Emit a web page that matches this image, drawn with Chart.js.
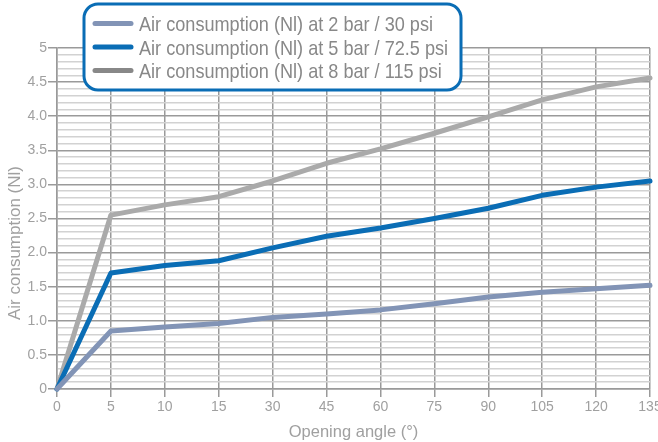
<!DOCTYPE html>
<html>
<head>
<meta charset="utf-8">
<script src="https://cdn.jsdelivr.net/npm/chart.js@4/dist/chart.umd.min.js"></script>
<style>
  html, body { margin: 0; padding: 0; background: #fff; }
  #wrap { width: 658px; height: 442px; position: relative; }
</style>
</head>
<body>
<div id="wrap"><canvas id="c" width="658" height="442"></canvas></div>
<script>
// ---- data ----
const categories = ['0', '5', '10', '15', '30', '45', '60', '75', '90', '105', '120', '135'];
const series2bar = [0, 0.85, 0.91, 0.96, 1.05, 1.10, 1.16, 1.25, 1.35, 1.42, 1.47, 1.52];
const series5bar = [0, 1.70, 1.81, 1.88, 2.07, 2.24, 2.36, 2.50, 2.65, 2.84, 2.96, 3.05];
const series8bar = [0, 2.55, 2.70, 2.82, 3.05, 3.31, 3.52, 3.75, 3.99, 4.24, 4.43, 4.56];
const seriesLabels = [
  'Air consumption (Nl) at 2 bar / 30 psi',
  'Air consumption (Nl) at 5 bar / 72.5 psi',
  'Air consumption (Nl) at 8 bar / 115 psi'
];
const xTitle = 'Opening angle (°)';
const yTitle = 'Air consumption (Nl)';

const lineColors = ['#8294b6', '#0a6db5', '#aaaaaa'];
const legendColors = ['#8294b6', '#0a6db5', '#888888'];

function fmtY(v) {
  const t = Math.round(v * 10);
  if (t % 5 !== 0) return '';
  if (t === 0) return '0';
  if (t === 50) return '5';
  return (t / 10).toFixed(1);
}
function isMajor(v) { return Math.round(v * 10) % 5 === 0; }

const customDraw = {
  id: 'customDraw',
  afterDraw(chart) {
    const ctx = chart.ctx;
    const area = chart.chartArea;
    // y title
    ctx.save();
    ctx.fillStyle = '#a0a0a0';
    ctx.font = '17px "Liberation Sans", Arial, sans-serif';
    ctx.textAlign = 'center';
    ctx.textBaseline = 'middle';
    ctx.translate(15, 243);
    ctx.rotate(-Math.PI / 2);
    ctx.fillText(yTitle, 0, 0);
    ctx.restore();

    // legend box
    ctx.save();
    const bx = 84, by = 4, bw = 377, bh = 86, r = 14;
    ctx.beginPath();
    ctx.moveTo(bx + r, by);
    ctx.lineTo(bx + bw - r, by);
    ctx.arcTo(bx + bw, by, bx + bw, by + r, r);
    ctx.lineTo(bx + bw, by + bh - r);
    ctx.arcTo(bx + bw, by + bh, bx + bw - r, by + bh, r);
    ctx.lineTo(bx + r, by + bh);
    ctx.arcTo(bx, by + bh, bx, by + bh - r, r);
    ctx.lineTo(bx, by + r);
    ctx.arcTo(bx, by, bx + r, by, r);
    ctx.closePath();
    ctx.fillStyle = '#ffffff';
    ctx.fill();
    ctx.lineWidth = 3;
    ctx.strokeStyle = '#0a6db5';
    ctx.stroke();

    const rowsY = [23.5, 47, 70.5];
    ctx.font = '21px "Liberation Sans Narrow", "Arial Narrow", "Liberation Sans", Arial, sans-serif';
    const w0 = ctx.measureText(seriesLabels[0]).width;
    const sx = 294 / w0;
    chart.data.datasets.forEach((ds, i) => {
      const y = rowsY[i];
      ctx.beginPath();
      ctx.lineCap = 'round';
      ctx.lineWidth = 5;
      ctx.strokeStyle = legendColors[i];
      ctx.moveTo(95, y);
      ctx.lineTo(131, y);
      ctx.stroke();
      ctx.save();
      ctx.translate(139, y + 7.5);
      ctx.scale(sx, 1);
      ctx.fillStyle = '#888888';
      ctx.textAlign = 'left';
      ctx.textBaseline = 'alphabetic';
      ctx.fillText(ds.label, 0, 0);
      ctx.restore();
    });
    ctx.restore();
  }
};

const ds = [series2bar, series5bar, series8bar].map((d, i) => ({
  label: seriesLabels[i],
  data: d,
  borderColor: lineColors[i],
  backgroundColor: lineColors[i],
  borderWidth: 5,
  pointRadius: 0,
  tension: 0,
  fill: false,
  clip: false,
  borderCapStyle: 'round',
  borderJoinStyle: 'round'
}));
// draw order: 8 bar first (bottom), then others
ds[0].order = 1; ds[1].order = 2; ds[2].order = 3;

new Chart(document.getElementById('c'), {
  type: 'line',
  data: { labels: categories, datasets: ds },
  options: {
    responsive: false,
    animation: false,
    devicePixelRatio: 1,
    layout: { padding: { top: 48, right: 8, left: 0, bottom: 0 } },
    plugins: { legend: { display: false }, tooltip: { enabled: false } },
    scales: {
      x: {
        type: 'category',
        offset: false,
        afterFit(s) { s.height = 53; s.paddingLeft = 0; s.paddingRight = 0; },
        grid: { color: '#9a9a9a', lineWidth: 1.5, tickLength: 8, tickColor: '#9a9a9a', drawOnChartArea: true },
        border: { color: '#9a9a9a', width: 1.5 },
        ticks: { color: '#a0a0a0', font: { family: '"Liberation Sans", Arial, sans-serif', size: 14 }, padding: 2, maxRotation: 0, autoSkip: false },
        title: { display: true, text: xTitle, color: '#a0a0a0', font: { family: '"Liberation Sans", Arial, sans-serif', size: 16.5 }, padding: { top: 2, bottom: 0 } }
      },
      y: {
        min: 0, max: 5,
        afterFit(s) { s.width = 57; },
        grid: {
          color: c => isMajor(c.tick.value) ? '#9a9a9a' : '#d2d2d2',
          lineWidth: 1.5,
          tickLength: 9,
          tickColor: c => isMajor(c.tick.value) ? '#9a9a9a' : 'rgba(0,0,0,0)'
        },
        border: { color: '#9a9a9a', width: 1.5 },
        ticks: {
          stepSize: 0.1, maxTicksLimit: 100, autoSkip: false,
          color: '#a0a0a0', padding: 1,
          font: { family: '"Liberation Sans", Arial, sans-serif', size: 14 },
          callback: v => fmtY(v)
        }
      }
    }
  },
  plugins: [customDraw]
});
</script>
</body>
</html>
